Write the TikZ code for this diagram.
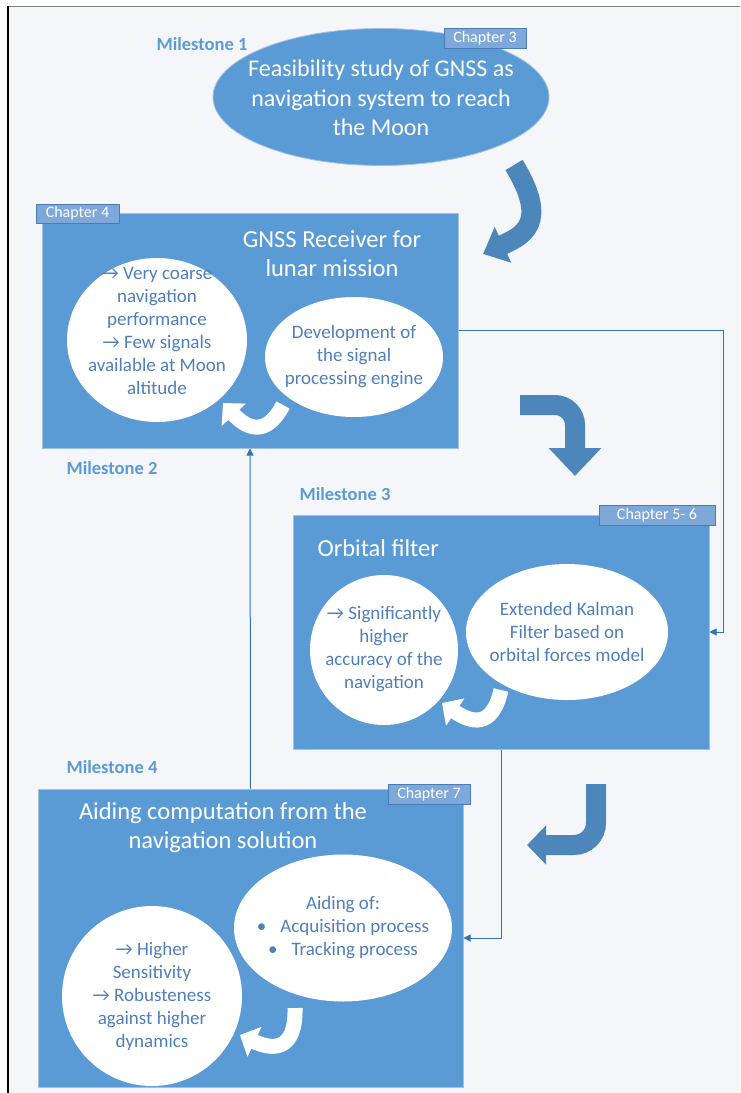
\documentclass[tikz,border=0pt]{standalone}
\usepackage{fontspec}
\setmainfont{Carlito}
\usetikzlibrary{arrows.meta,shapes.geometric}
\definecolor{boxblue}{HTML}{5B9BD5}
\definecolor{boxedge}{HTML}{A3C0E2}
\definecolor{tabblue}{HTML}{7EA8DA}
\definecolor{tabedge}{HTML}{4A7DB5}
\definecolor{bigarrow}{HTML}{4D86BA}
\definecolor{linkblue}{HTML}{2E75B6}
\definecolor{inktext}{HTML}{4E80BC}
\definecolor{mstext}{HTML}{5B9BD5}
\definecolor{paper}{HTML}{F5F6FA}
\newcommand{\pointer}{→}
\tikzset{
  stage/.style={rectangle, fill=boxblue, draw=boxedge, line width=1pt, inner sep=0pt},
  tab/.style={rectangle, fill=tabblue, draw=tabedge, line width=0.8pt, inner sep=0pt,
    text=white, font=\fontsize{16}{18}\selectfont},
  bubble/.style={ellipse, fill=white, inner sep=0pt},
  bubbletext/.style={align=center, text=inktext, font=\fontsize{19}{23}\selectfont},
  titletext/.style={align=center, text=white, font=\fontsize{24.5}{28.5}\selectfont},
  milestone/.style={text=mstext, font=\fontsize{18.5}{20}\bfseries\selectfont},
  link/.style={draw=linkblue, line width=1pt},
  linktip/.style={-{Triangle[length=7pt,width=7pt]}},
  bigarr/.style={draw=bigarrow, line width=20pt},
  loopar/.style={draw=white, line width=15pt, -{Triangle[width=32pt,length=16pt]}},
}
\begin{document}
\begin{tikzpicture}[x=1pt,y=-1pt]
\useasboundingbox (0,0) rectangle (740,1093);
% page frame
\fill[white] (0,0) rectangle (740,1093);
\fill[paper] (8,6) rectangle (740,1093);
\draw[gray, line width=1.5pt] (8,6.5) -- (740,6.5);
\draw[black, line width=1.5pt] (8,6) -- (8,1093);

% milestone 1: feasibility study
\node[ellipse, fill=boxblue, draw=boxedge, line width=0.8pt, minimum width=336pt, minimum height=137pt, inner sep=0pt] (feas) at (381,97) {};
\node[titletext, font=\fontsize{24}{29.5}\selectfont] (feastxt) at (381,98) {Feasibility study of GNSS as\\navigation system to reach\\the Moon};
\node[tab, minimum width=82pt, minimum height=20pt] (tab3) at (485,38) {Chapter 3};
\node[milestone] (ms1) at (202,44) {Milestone 1};

% milestone 2: receiver
\node[stage, minimum width=416pt, minimum height=235pt] (recv) at (250,330.5) {};
\node[tab, minimum width=83pt, minimum height=19pt] (tab4) at (77.5,213.5) {Chapter 4};
\node[titletext] (recvtitle) at (332,253.5) {GNSS Receiver for\\lunar mission};
\node[bubble, minimum width=180pt, minimum height=164pt] (recvL) at (157,340) {};
\node[bubbletext] (recvLtxt) at (157,331) {\pointer{} Very coarse\\navigation\\performance\\\pointer{} Few signals\\available at Moon\\altitude};
\node[bubble, minimum width=178pt, minimum height=120pt] (recvR) at (354,357) {};
\node[bubbletext] (recvRtxt) at (354,357) {Development of\\the signal\\processing engine};
\draw[loopar] (283,405) .. controls (266,438) and (246,428) .. (223,403);
\node[milestone] (ms2) at (112,468) {Milestone 2};

% milestone 3: orbital filter
\node[stage, minimum width=416pt, minimum height=234pt] (orb) at (501,632) {};
\node[tab, minimum width=116pt, minimum height=20pt] (tab56) at (657,515) {Chapter 5- 6};
\node[titletext, anchor=west] (orbtitle) at (314,548) {Orbital filter};
\node[bubble, minimum width=148pt, minimum height=150pt] (orbL) at (384,650) {};
\node[bubbletext] (orbLtxt) at (384,649.5) {\pointer{} Significantly\\higher\\accuracy of the\\navigation};
\node[bubble, minimum width=202pt, minimum height=136pt] (orbR) at (567,632) {};
\node[bubbletext] (orbRtxt) at (567,632) {Extended Kalman\\Filter based on\\orbital forces model};
\draw[loopar] (501,690) .. controls (492,730) and (470,722) .. (442,703);
\node[milestone] (ms3) at (345,494) {Milestone 3};

% milestone 4: aiding
\node[stage, minimum width=425pt, minimum height=298pt] (aid) at (250.5,938) {};
\node[tab, minimum width=82pt, minimum height=20pt] (tab7) at (429,794) {Chapter 7};
\node[titletext, font=\fontsize{24.5}{29}\selectfont] (aidtitle) at (223,827.5) {Aiding computation from the\\navigation solution};
\node[bubble, minimum width=218pt, minimum height=147pt] (aidR) at (343,928) {};
\node[bubbletext] (aidRtxt) at (343,927.5) {Aiding of:\\\textbullet\hspace{14pt}Acquisition process\\\textbullet\hspace{14pt}Tracking process};
\node[bubble, minimum width=180pt, minimum height=180pt] (aidL) at (152,996) {};
\node[bubbletext] (aidLtxt) at (152,996.5) {\pointer{} Higher\\Sensitivity\\\pointer{} Robusteness\\against higher\\dynamics};
\draw[loopar] (295,1008) .. controls (296,1052) and (272,1050) .. (240,1035);
\node[milestone] (ms4) at (112,767) {Milestone 4};

% flow arrows between stages
\draw[bigarr, -{Triangle[width=38pt,length=22pt]}] (514,165) .. controls (550,224) and (522,236) .. (483,254);
\draw[bigarr, rounded corners=20pt, -{Triangle[width=51pt,length=28pt]}] (520,405) -- (575,405) -- (575,476);
\draw[bigarr, rounded corners=22pt, -{Triangle[width=38pt,length=19pt]}] (596,784) -- (596,845) -- (527,845);

% feedback connectors
\coordinate (c1) at (723,330.5);
\draw[link, linktip] (recv.east) -- (c1) |- (orb.east);
\draw[link, linktip] (orb.south) |- (aid.east);
\draw[link, linktip] (aid.north) -- (recv.south);
\end{tikzpicture}
\end{document}
